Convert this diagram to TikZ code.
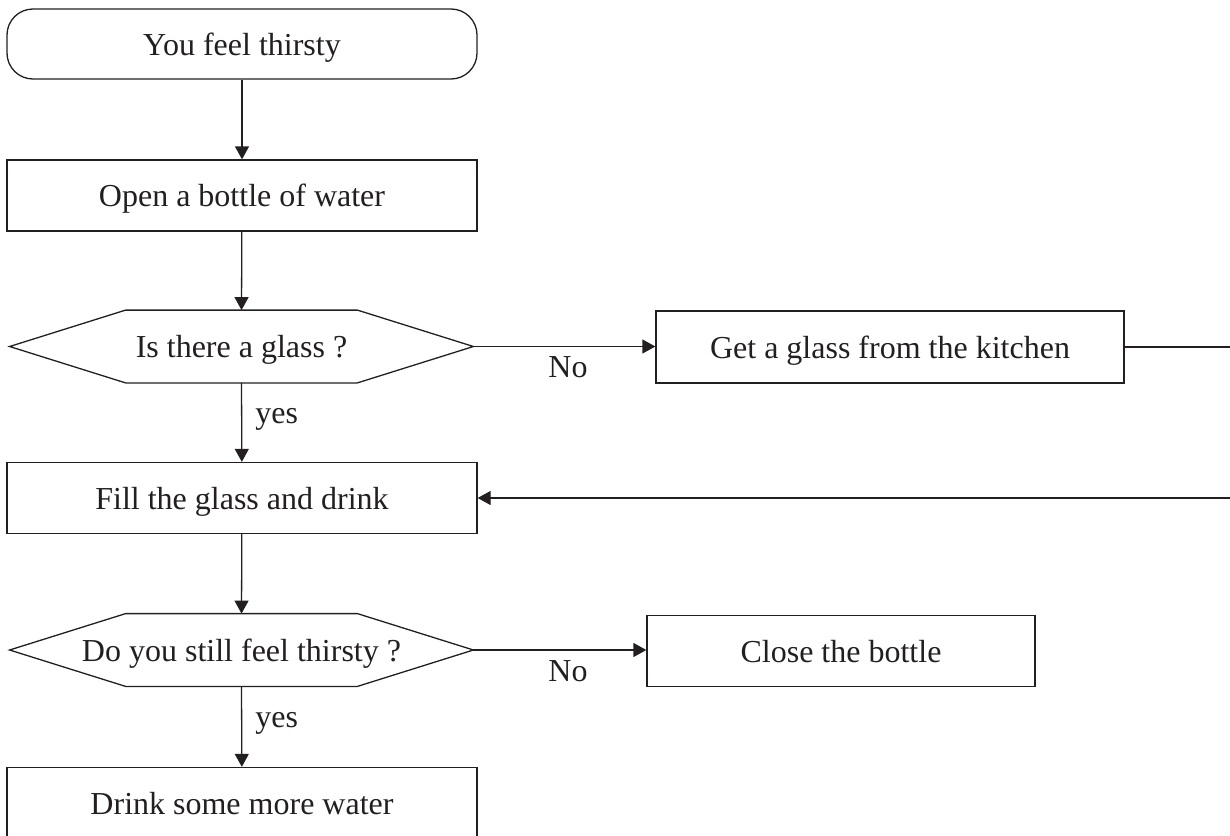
\documentclass[tikz,border=0pt]{standalone}
\usepackage{fontspec}
\setmainfont{Liberation Serif}
\usetikzlibrary{arrows.meta}
\definecolor{ink}{RGB}{35,31,32}
% outline of a decision node: flat top and bottom, pointed ends
\newcommand{\decisionoutline}[1]{%
  \draw[line] (#1.west) -- ([xshift=58pt]#1.north west) -- ([xshift=-58pt]#1.north east)
    -- (#1.east) -- ([xshift=-58pt]#1.south east) -- ([xshift=58pt]#1.south west) -- cycle;}
\begin{document}
\begin{tikzpicture}[x=0.5pt,y=-0.5pt,
  line/.style={draw=ink,line width=0.65pt},
  every node/.style={font=\fontsize{16}{18}\selectfont,text=ink,inner sep=0pt},
  boxtext/.style={text height=11pt,text depth=0pt},
  stepbox/.style={line,boxtext,rectangle,minimum width=235pt,minimum height=35.5pt},
  startbox/.style={stepbox,rounded corners=13pt,minimum height=35pt},
  decision/.style={boxtext,rectangle,minimum width=231.5pt,minimum height=36pt},
  flow/.style={line,-{Triangle[length=6.5pt,width=7pt]}},
  tag/.style={anchor=base west}]
\useasboundingbox (0,0) rectangle (1230,835);
\clip (0,0) rectangle (1230,835);

% main column
\node[startbox] (start) at (242,44) {You feel thirsty};
\node[stepbox]  (open)  at (242,195.5) {Open a bottle of water};
\node[decision] (glass) at (241.5,346.5) {Is there a glass ?};
\node[stepbox]  (fill)  at (242,498) {Fill the glass and drink};
\node[decision] (still) at (241.5,650) {Do you still feel thirsty ?};
\node[stepbox]  (more)  at (242,803) {Drink some more water};

% right column
\node[stepbox,minimum width=234pt,minimum height=36pt] (kitchen) at (890,347) {Get a glass from the kitchen};
\node[stepbox,minimum width=194pt] (close) at (841,651) {Close the bottle};

\decisionoutline{glass}
\decisionoutline{still}

% connectors
\draw[flow] (start) -- (open);
\draw[flow] (open) -- (glass.north);
\draw[flow] (glass.south) -- (fill);
\draw[flow] (fill) -- (still.north);
\draw[flow] (still.south) -- (more);
\draw[flow] (glass.east) -- (glass.east -| kitchen.west);
\draw[flow] (still.east) -- (still.east -| close.west);
\draw[flow] (kitchen.east) -- ++(150,0) |- (fill.east);

% branch labels
\node[tag] (yes1) at (255,423) {yes};
\node[tag] (no1)  at (548,377) {No};
\node[tag] (yes2) at (255,727) {yes};
\node[tag] (no2)  at (548,681) {No};
\end{tikzpicture}
\end{document}
